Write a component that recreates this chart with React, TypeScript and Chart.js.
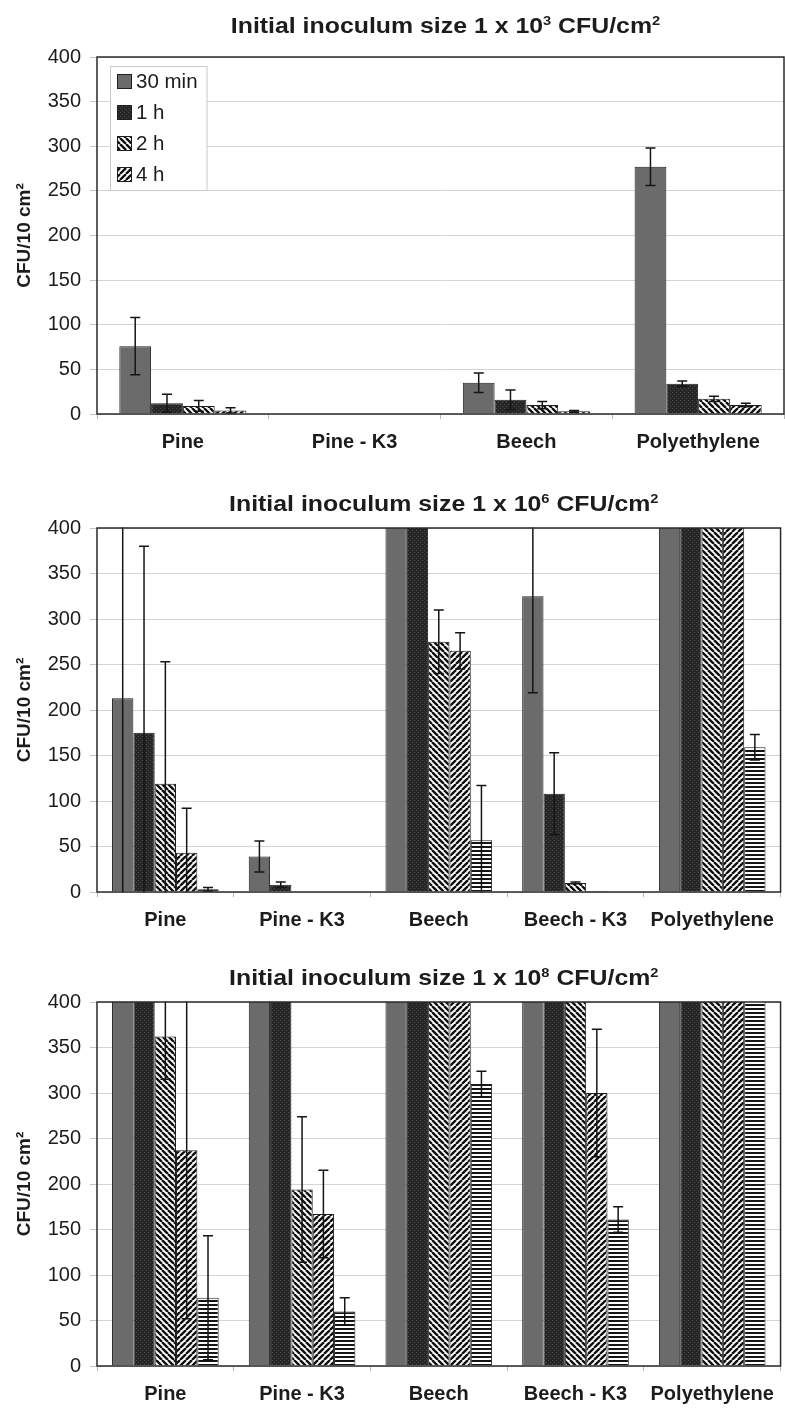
import React, { useEffect, useRef } from "react";
import { Chart, registerables } from "chart.js";

Chart.register(...registerables);

if (typeof document !== "undefined") {
  document.body.style.margin = "0";
}

// ---------- categories / labels ----------
const CATEGORIES_1E3 = ["Pine", "Pine - K3", "Beech", "Polyethylene"];
const CATEGORIES_1E6 = ["Pine", "Pine - K3", "Beech", "Beech - K3", "Polyethylene"];
const CATEGORIES_1E8 = ["Pine", "Pine - K3", "Beech", "Beech - K3", "Polyethylene"];
const SERIES_LABELS = ["30 min", "1 h", "2 h", "4 h", "Series 5"];
const LEGEND_LABELS = ["30 min", "1 h", "2 h", "4 h"];
const Y_MIN = 0;
const Y_MAX = 400;
const Y_STEP = 50;
const Y_TITLE = "CFU/10 cm²";

// values above the axis maximum (bars run off the top of the plot)
const OFF = 450;

// ---------- Initial inoculum 1 x 10^3 ----------
const E3_30MIN = [76, 0, 35, 277];
const E3_30MIN_ERR = [32, 0, 11, 21];
const E3_1H = [12, 0, 16, 34];
const E3_1H_ERR = [10, 0, 11, 3];
const E3_2H = [9, 0, 10, 17];
const E3_2H_ERR = [6, 0, 4, 3];
const E3_4H = [4, 0, 3, 10];
const E3_4H_ERR = [3, 0, 1, 2];

// ---------- Initial inoculum 1 x 10^6 ----------
const E6_30MIN = [213, 39, OFF, 325, OFF];
const E6_30MIN_ERR = [215, 17, 0, 106, 0];
const E6_1H = [175, 8, OFF, 108, OFF];
const E6_1H_ERR = [205, 3, 0, 45, 0];
const E6_2H = [119, 0, 275, 10, OFF];
const E6_2H_ERR = [134, 0, 35, 1, 0];
const E6_4H = [43, 0, 265, 1, OFF];
const E6_4H_ERR = [49, 0, 20, 0, 0];
const E6_S5 = [3, 0, 57, 0, 159];
const E6_S5_ERR = [2, 0, 60, 0, 14];

// ---------- Initial inoculum 1 x 10^8 ----------
const E8_30MIN = [OFF, OFF, OFF, OFF, OFF];
const E8_30MIN_ERR = [0, 0, 0, 0, 0];
const E8_1H = [OFF, OFF, OFF, OFF, OFF];
const E8_1H_ERR = [0, 0, 0, 0, 0];
const E8_2H = [362, 194, OFF, OFF, OFF];
const E8_2H_ERR = [47, 80, 0, 0, 0];
const E8_4H = [237, 167, OFF, 300, OFF];
const E8_4H_ERR = [185, 48, 0, 70, 0];
const E8_S5 = [75, 60, 310, 161, OFF];
const E8_S5_ERR = [68, 15, 14, 14, 0];

const FONT = "'Liberation Sans', Arial, Helvetica, sans-serif";
const INK = "#1c1c1c";

type Series = { label: string; data: number[]; err: number[] };

function makeFills(): (string | CanvasPattern)[] {
  const tile = (w: number, h: number, draw: (g: CanvasRenderingContext2D) => void) => {
    const c = document.createElement("canvas");
    c.width = w;
    c.height = h;
    const g = c.getContext("2d")!;
    draw(g);
    const ctx = document.createElement("canvas").getContext("2d")!;
    return ctx.createPattern(c, "repeat") as CanvasPattern;
  };
  const dotted = tile(4, 4, (g) => {
    g.fillStyle = "#262626";
    g.fillRect(0, 0, 4, 4);
    g.fillStyle = "#4a4a4a";
    g.fillRect(0, 0, 1, 1);
    g.fillRect(2, 2, 1, 1);
  });
  const diag = (down: boolean) =>
    tile(6, 6, (g) => {
      const s = 6;
      g.fillStyle = "#ffffff";
      g.fillRect(0, 0, s, s);
      g.strokeStyle = "#111111";
      g.lineWidth = 2.4;
      g.beginPath();
      for (let k = -1; k <= 1; k++) {
        if (down) {
          g.moveTo(k * s, 0);
          g.lineTo(k * s + s, s);
        } else {
          g.moveTo(k * s, s);
          g.lineTo(k * s + s, 0);
        }
      }
      g.stroke();
    });
  const horiz = tile(4, 4, (g) => {
    g.fillStyle = "#ffffff";
    g.fillRect(0, 0, 4, 4);
    g.fillStyle = "#151515";
    g.fillRect(0, 0, 4, 2);
  });
  return ["#6b6b6b", dotted, diag(true), diag(false), horiz];
}

type PanelProps = {
  height: number;
  padTop: number;
  padBottom: number;
  exponent: string;
  categories: string[];
  series: Series[];
  catPct: number;
  legend: boolean;
};

function BarPanel(props: PanelProps) {
  const ref = useRef<HTMLCanvasElement | null>(null);
  useEffect(() => {
    const canvas = ref.current;
    if (!canvas) return;
    const fills = makeFills();
    const { series, exponent, legend } = props;

    const overlay = {
      id: "overlay",
      afterDatasetsDraw(chart: any) {
        const ctx: CanvasRenderingContext2D = chart.ctx;
        const area = chart.chartArea;
        const yScale = chart.scales.y;
        // error bars
        ctx.save();
        ctx.beginPath();
        ctx.rect(area.left, area.top - 0.5, area.right - area.left, area.bottom - area.top + 1);
        ctx.clip();
        ctx.strokeStyle = "#151515";
        ctx.lineWidth = 1.5;
        series.forEach((s, i) => {
          const meta = chart.getDatasetMeta(i);
          s.data.forEach((v, j) => {
            const e = s.err[j];
            if (!e) return;
            const bar = meta.data[j];
            const x = bar.x;
            const yt = yScale.getPixelForValue(v + e);
            const yb = yScale.getPixelForValue(v - e);
            ctx.beginPath();
            ctx.moveTo(x, yt);
            ctx.lineTo(x, yb);
            ctx.moveTo(x - 5, yt);
            ctx.lineTo(x + 5, yt);
            ctx.moveTo(x - 5, yb);
            ctx.lineTo(x + 5, yb);
            ctx.stroke();
          });
        });
        ctx.restore();
        // frame
        ctx.save();
        ctx.strokeStyle = "#2a2a2a";
        ctx.lineWidth = 1.5;
        ctx.strokeRect(area.left, area.top, area.right - area.left, area.bottom - area.top);
        ctx.restore();
      },
      afterDraw(chart: any) {
        const ctx: CanvasRenderingContext2D = chart.ctx;
        const area = chart.chartArea;
        // title with superscripts
        const parts = [
          { t: "Initial inoculum size 1 x 10", sup: false },
          { t: exponent, sup: true },
          { t: " CFU/cm", sup: false },
          { t: "2", sup: true },
        ];
        const mainFont = `bold 22px ${FONT}`;
        const supFont = `bold 13px ${FONT}`;
        ctx.save();
        let w = 0;
        parts.forEach((p) => {
          ctx.font = p.sup ? supFont : mainFont;
          w += ctx.measureText(p.t).width;
        });
        const cx = (area.left + area.right) / 2 + 5;
        ctx.translate(cx, 33);
        ctx.scale(1.13, 1);
        ctx.fillStyle = INK;
        ctx.textBaseline = "alphabetic";
        ctx.textAlign = "left";
        let x = -w / 2;
        parts.forEach((p) => {
          ctx.font = p.sup ? supFont : mainFont;
          ctx.fillText(p.t, x, p.sup ? -8 : 0);
          x += ctx.measureText(p.t).width;
        });
        ctx.restore();

        if (legend) {
          ctx.save();
          ctx.font = `20.5px ${FONT}`;
          const bx = area.left + 13;
          const by = area.top + 9;
          const rowH = 31;
          let tw = 0;
          LEGEND_LABELS.forEach((l) => (tw = Math.max(tw, ctx.measureText(l).width)));
          const bw = 7 + 15 + 4 + tw + 9;
          const bh = rowH * LEGEND_LABELS.length;
          ctx.fillStyle = "#ffffff";
          ctx.fillRect(bx, by, bw, bh);
          ctx.strokeStyle = "#c9c9c9";
          ctx.lineWidth = 1;
          ctx.strokeRect(bx + 0.5, by + 0.5, bw, bh);
          LEGEND_LABELS.forEach((l, i) => {
            const cy = by + rowH * i + rowH / 2;
            ctx.fillStyle = fills[i] as any;
            ctx.fillRect(bx + 7, cy - 7.5, 15, 15);
            ctx.strokeStyle = "#1e1e1e";
            ctx.lineWidth = 1;
            ctx.strokeRect(bx + 7.5, cy - 7, 14, 14);
            ctx.fillStyle = INK;
            ctx.textBaseline = "middle";
            ctx.fillText(l, bx + 7 + 15 + 4, cy + 1);
          });
          ctx.restore();
        }
      },
    };

    const chart = new Chart(canvas, {
      type: "bar",
      data: {
        labels: props.categories,
        datasets: series.map((s, i) => ({
          label: s.label,
          data: s.data,
          backgroundColor: fills[i] as any,
          borderColor: "#1e1e1e",
          borderWidth: 1,
          categoryPercentage: props.catPct,
          barPercentage: 1,
          clip: 0,
        })),
      },
      options: {
        responsive: false,
        animation: false,
        devicePixelRatio: 1,
        layout: { padding: { top: props.padTop, bottom: props.padBottom, left: 0, right: 1 } },
        plugins: {
          legend: { display: false },
          title: { display: false },
          tooltip: { enabled: false },
        },
        scales: {
          x: {
            grid: {
              display: true,
              drawOnChartArea: false,
              drawTicks: true,
              tickLength: 5,
              tickColor: "#b5b5b5",
              offset: true,
            },
            border: { display: false },
            ticks: {
              font: { family: FONT, size: 20, weight: "bold" },
              color: INK,
              padding: 11,
              maxRotation: 0,
              autoSkip: false,
            },
            afterFit: (s: any) => {
              s.height = 40;
            },
          },
          y: {
            min: Y_MIN,
            max: Y_MAX,
            ticks: {
              stepSize: Y_STEP,
              font: { family: FONT, size: 20 },
              color: INK,
              padding: 9,
            },
            grid: {
              color: "#d4d4d4",
              lineWidth: 1,
              tickLength: 7,
              tickColor: "#c4c4c4",
            },
            border: { display: false },
            title: {
              display: true,
              text: Y_TITLE,
              font: { family: FONT, size: 19, weight: "bold" },
              color: INK,
              padding: { top: 13, bottom: 0 },
            },
            afterFit: (s: any) => {
              s.width = 97;
            },
          },
        },
      } as any,
      plugins: [overlay],
    });
    return () => chart.destroy();
  }, []);
  return (
    <div style={{ width: 785, height: props.height }}>
      <canvas ref={ref} width={785} height={props.height} style={{ display: "block" }} />
    </div>
  );
}

const SERIES_1E3: Series[] = [
  { label: SERIES_LABELS[0], data: E3_30MIN, err: E3_30MIN_ERR },
  { label: SERIES_LABELS[1], data: E3_1H, err: E3_1H_ERR },
  { label: SERIES_LABELS[2], data: E3_2H, err: E3_2H_ERR },
  { label: SERIES_LABELS[3], data: E3_4H, err: E3_4H_ERR },
];
const SERIES_1E6: Series[] = [
  { label: SERIES_LABELS[0], data: E6_30MIN, err: E6_30MIN_ERR },
  { label: SERIES_LABELS[1], data: E6_1H, err: E6_1H_ERR },
  { label: SERIES_LABELS[2], data: E6_2H, err: E6_2H_ERR },
  { label: SERIES_LABELS[3], data: E6_4H, err: E6_4H_ERR },
  { label: SERIES_LABELS[4], data: E6_S5, err: E6_S5_ERR },
];
const SERIES_1E8: Series[] = [
  { label: SERIES_LABELS[0], data: E8_30MIN, err: E8_30MIN_ERR },
  { label: SERIES_LABELS[1], data: E8_1H, err: E8_1H_ERR },
  { label: SERIES_LABELS[2], data: E8_2H, err: E8_2H_ERR },
  { label: SERIES_LABELS[3], data: E8_4H, err: E8_4H_ERR },
  { label: SERIES_LABELS[4], data: E8_S5, err: E8_S5_ERR },
];

export default function App() {
  return (
    <div style={{ width: 785, background: "#ffffff" }}>
      <BarPanel
        height={478}
        padTop={57}
        padBottom={24}
        exponent="3"
        categories={CATEGORIES_1E3}
        series={SERIES_1E3}
        catPct={0.74}
        legend={true}
      />
      <BarPanel
        height={474}
        padTop={50}
        padBottom={20}
        exponent="6"
        categories={CATEGORIES_1E6}
        series={SERIES_1E6}
        catPct={0.78}
        legend={false}
      />
      <BarPanel
        height={458}
        padTop={50}
        padBottom={4}
        exponent="8"
        categories={CATEGORIES_1E8}
        series={SERIES_1E8}
        catPct={0.78}
        legend={false}
      />
    </div>
  );
}
